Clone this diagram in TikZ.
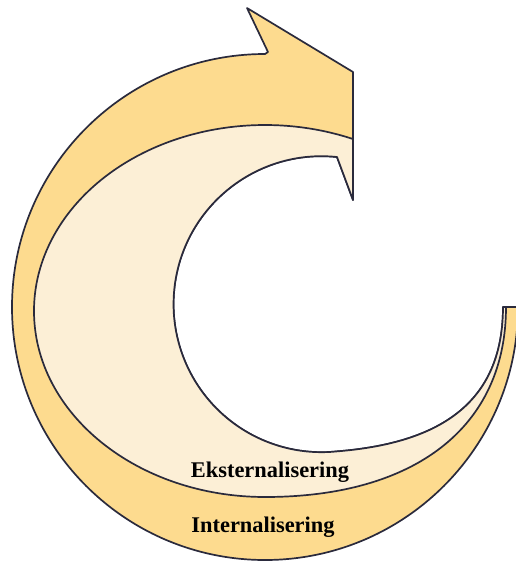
\documentclass[tikz,border=0pt]{standalone}
\usepackage{fontspec}
\setmainfont{Liberation Serif}
\definecolor{darkfill}{HTML}{FDDB8F}
\definecolor{lightfill}{HTML}{FCEFD6}
\definecolor{edge}{HTML}{2A2A3C}
\tikzset{
  band/.style={draw=edge, line width=1.7pt, line join=round},
  lbl/.style={font=\fontsize{22.4}{27}\selectfont\bfseries, text=black, anchor=base, inner sep=0pt}
}
\begin{document}
\begin{tikzpicture}[x=1pt,y=-1pt]
\useasboundingbox (0,0) rectangle (515,563);
\coordinate (tailout) at (518,307);
\coordinate (tailin) at (503,307);
\coordinate (lighttail) at (506,307);
\coordinate (notch) at (268,52);
\coordinate (barb) at (247,8);
\coordinate (tip) at (353,72);
\coordinate (headlow) at (353,137);
\coordinate (lighttip) at (353,200);
\coordinate (lightnotch) at (337,157);
\coordinate (lightbottom) at (265,497);
% outer (dark) circular arrow
\path[band, fill=darkfill] (tailout) arc[start angle=0, end angle=270, radius=253]
  -- (notch) -- (barb) -- (tip) -- (headlow) -- (lighttip) -- (lightnotch)
  arc[start angle=276, end angle=84, radius=148]
  .. controls +(100,-8) and (503,405) .. (tailin)
  -- cycle;
% inner (light) circular arrow
\path[band, fill=lightfill] (headlow) -- (lighttip) -- (lightnotch)
  arc[start angle=276, end angle=84, radius=148]
  .. controls +(100,-8) and (503,405) .. (tailin)
  -- (lighttail) .. controls (506,427) and (415,497) .. (lightbottom)
  arc[start angle=90, end angle=292.4, x radius=231, y radius=186]
  -- cycle;
\node[lbl] (ekst) at (270,477) {Eksternalisering};
\node[lbl] (int) at (263,532) {Internalisering};
\end{tikzpicture}
\end{document}
